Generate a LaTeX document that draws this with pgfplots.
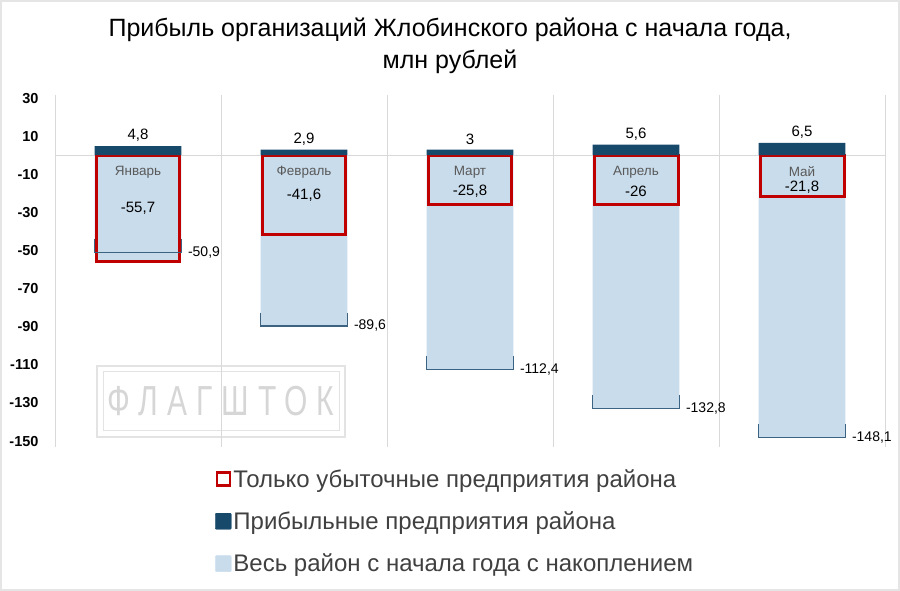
\documentclass[border=0pt]{standalone}
\usepackage{pgfplots}
\pgfplotsset{compat=1.18}
\usepackage{pgfplotstable}
\usepackage{fontspec}
\setmainfont{Liberation Sans}
\newfontfamily\wmfont[LetterSpace=30]{Liberation Sans}
\definecolor{darkblue}{HTML}{17496A}
\definecolor{lightblue}{HTML}{C9DCEB}
\definecolor{boxred}{HTML}{C00000}
\definecolor{gridgray}{HTML}{D9D9D9}
\definecolor{legtext}{HTML}{404040}
\definecolor{monthgray}{HTML}{595959}
\definecolor{bracketc}{HTML}{3C6482}

\pgfplotstableread{
x profit loss cum ly plab llab clab mon
0 4.8 -55.7 -50.9 -27.8 4,8 -55,7 -50,9 Январь
1 2.9 -41.6 -89.6 -21.0 2,9 -41,6 -89,6 Февраль
2 3.0 -25.8 -112.4 -18.9 3 -25,8 -112,4 Март
3 5.6 -26.0 -132.8 -18.9 5,6 -26 -132,8 Апрель
4 6.5 -21.8 -148.1 -16.8 6,5 -21,8 -148,1 Май
}\data

\begin{document}
\begin{tikzpicture}
\useasboundingbox (0pt,0pt) rectangle (900pt,591pt);
\draw[gray!20, line width=2pt] (1pt,1pt) rectangle (899pt,590pt);
\node[font=\fontsize{25}{29}\selectfont] at (450pt,561pt) {Прибыль организаций Жлобинского района с начала года,};
\node[font=\fontsize{25}{29}\selectfont] at (450pt,529pt) {млн рублей};
% watermark
\draw[gray!22, line width=1.5pt] (97pt,154pt) rectangle (345pt,225pt);
\draw[gray!22, line width=1pt] (103pt,160pt) rectangle (339pt,219pt);
\node[text=gray!32, font=\wmfont\fontsize{30}{30}\selectfont, yscale=1.4] at (221pt,190pt) {ФЛАГШТОК};
\begin{axis}[
  at={(55pt,144.2pt)}, anchor=south west,
  scale only axis, width=830pt, height=351.6pt,
  xmin=-0.5, xmax=4.5, ymin=-153, ymax=31.5,
  clip=false,
  axis line style={draw=none},
  major tick length=0pt,
  xtick={-0.5,0.5,...,4.5}, xticklabels={},
  xmajorgrids, major grid style={gridgray, line width=0.8pt},
  ytick={-150,-130,...,30},
  yticklabel style={font=\bfseries\fontsize{14.5}{16}\selectfont, xshift=-13pt},
  /pgf/number format/assume math mode=true,
  extra y ticks={0}, extra y tick labels={},
  extra y tick style={ymajorgrids=true, major grid style={gridgray, line width=0.8pt}},
  legend style={at={(0.189,-0.052)}, anchor=north west, draw=none, fill=none,
    font=\fontsize{24}{28}\selectfont\color{legtext}, row sep=19pt},
  legend cell align=left,
]
% cumulative bars
\addplot[ybar, bar shift=0pt, bar width=0.524, fill=lightblue, draw=none, forget plot]
  table[x=x, y=cum] {\data};
% red loss boxes
\addplot[ybar, bar shift=0pt, bar width=0.506, fill=lightblue, draw=boxred, line width=3pt, forget plot]
  table[x=x, y=loss] {\data};
% profit bars
\addplot[ybar, bar shift=0pt, bar width=0.524, fill=darkblue, draw=none, forget plot,
  nodes near coords, point meta=explicit symbolic,
  every node near coord/.style={font=\fontsize{15}{17}\selectfont, anchor=south, yshift=1pt}]
  table[x=x, y=profit, meta=plab] {\data};
% brackets
\addplot[bracketc, line width=1.2pt, forget plot] coordinates {(-0.262,-43.9) (-0.262,-50.9) (0.262,-50.9) (0.262,-43.9)};
\addplot[bracketc, line width=1.2pt, forget plot] coordinates {(0.738,-82.6) (0.738,-89.6) (1.262,-89.6) (1.262,-82.6)};
\addplot[bracketc, line width=1.2pt, forget plot] coordinates {(1.738,-105.4) (1.738,-112.4) (2.262,-112.4) (2.262,-105.4)};
\addplot[bracketc, line width=1.2pt, forget plot] coordinates {(2.738,-125.8) (2.738,-132.8) (3.262,-132.8) (3.262,-125.8)};
\addplot[bracketc, line width=1.2pt, forget plot] coordinates {(3.738,-141.1) (3.738,-148.1) (4.262,-148.1) (4.262,-141.1)};
% cumulative labels
\addplot[draw=none, forget plot, nodes near coords, point meta=explicit symbolic,
  every node near coord/.style={font=\fontsize{14}{16}\selectfont, anchor=west, xshift=3pt}]
  table[x expr=\thisrow{x}+0.262, y=cum, meta=clab] {\data};
% loss labels
\addplot[draw=none, forget plot, nodes near coords, point meta=explicit symbolic,
  every node near coord/.style={font=\fontsize{15}{17}\selectfont, anchor=center}]
  table[x=x, y=ly, meta=llab] {\data};
% month labels
\addplot[draw=none, forget plot, nodes near coords, point meta=explicit symbolic,
  every node near coord/.style={font=\fontsize{13.5}{15}\selectfont, text=monthgray, anchor=center}]
  table[x=x, y expr=-8.8, meta=mon] {\data};
% legend
\addlegendimage{legend image code/.code={\draw[draw=boxred, line width=2.5pt, fill=white] (1.5pt,-6.5pt) rectangle (14.5pt,6.5pt);}}
\addlegendentry{Только убыточные предприятия района}
\addlegendimage{legend image code/.code={\fill[darkblue, rounded corners=1pt] (0pt,-8pt) rectangle (16pt,8pt);}}
\addlegendentry{Прибыльные предприятия района}
\addlegendimage{legend image code/.code={\fill[lightblue, rounded corners=1pt] (0pt,-8pt) rectangle (16pt,8pt);}}
\addlegendentry{Весь район с начала года с накоплением}
\end{axis}
\end{tikzpicture}
\end{document}
